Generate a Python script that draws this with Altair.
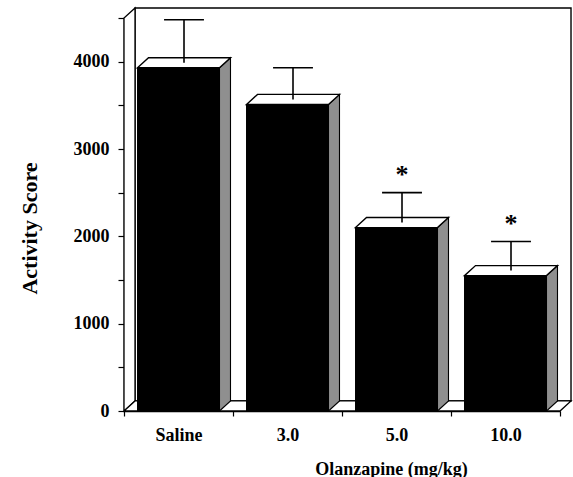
import altair as alt
import pandas as pd

# ---- data ----
groups = ["Saline", "3.0", "5.0", "10.0"]
means = [3930, 3510, 2100, 1550]
sems = [550, 420, 400, 390]
sig = ["", "", "*", "*"]

# ---- style constants (3D look) ----
Y_MAX = 4500
DX = 0.101      # depth in category units
DY = 115        # depth in score units
HALF_W = 0.376  # half width of front face
CAP = 0.183     # half width of error cap
STAR_GAP = 205  # gap between error cap and asterisk, score units
FONT = "Liberation Serif"
W, H = 436, 393

xs = alt.Scale(domain=[-0.5, len(groups) - 0.5], nice=False, zero=False)
ys = alt.Scale(domain=[0, Y_MAX], nice=False, zero=False)

front_rows, side_rows, top_rows, err_rows, cap_rows, star_rows = [], [], [], [], [], []
for i, (g, m, s, st) in enumerate(zip(groups, means, sems, sig)):
    xl, xr = i - HALF_W, i + HALF_W
    front_rows.append(dict(g=g, xl=xl, xr=xr, y0=0, y1=m))
    side_rows += [dict(g=g, x=xr, lo=0, hi=m), dict(g=g, x=xr + DX, lo=DY, hi=m + DY)]
    top_rows += [
        dict(g=g, x=xl, lo=m, hi=m),
        dict(g=g, x=xl + DX, lo=m, hi=m + DY),
        dict(g=g, x=xr, lo=m, hi=m + DY),
        dict(g=g, x=xr + DX, lo=m + DY, hi=m + DY),
    ]
    cx = i + DX / 2
    err_rows.append(dict(g=g, x=cx, y0=m + DY / 2, y1=m + s))
    cap_rows.append(dict(g=g, x0=cx - CAP, x1=cx + CAP, y=m + s))
    star_rows.append(dict(g=g, x=cx, y=m + s + STAR_GAP, t=st))

front = pd.DataFrame(front_rows)
side = pd.DataFrame(side_rows)
top = pd.DataFrame(top_rows)
err = pd.DataFrame(err_rows)
cap = pd.DataFrame(cap_rows)
star = pd.DataFrame(star_rows)

n = len(groups)
back = pd.DataFrame([dict(x0=-0.5 + DX, x1=n - 0.5 + DX, y0=DY, y1=Y_MAX + DY)])
leftwall = pd.DataFrame([dict(x=-0.5, lo=0, hi=Y_MAX), dict(x=-0.5 + DX, lo=DY, hi=Y_MAX + DY)])
floor = pd.DataFrame([
    dict(x=-0.5, lo=0, hi=0),
    dict(x=-0.5 + DX, lo=0, hi=DY),
    dict(x=n - 0.5, lo=0, hi=DY),
    dict(x=n - 0.5 + DX, lo=DY, hi=DY),
])

# label expression: nested conditionals, one per category
label_expr = "''"
for i in reversed(range(n)):
    label_expr = f"datum.value > {i} && datum.value < {i + 1} ? '{groups[i]}' : ({label_expr})"

x_axis = alt.Axis(
    values=[i - 0.5 for i in range(n + 1)], labelExpr=label_expr, labelOffset=-W / n / 2,
    tickSize=5, tickColor="black", domainColor="black", tickWidth=1.2, domainWidth=1.5,
    labelFont=FONT, labelFontWeight="bold", labelFontSize=18, labelColor="black",
    labelPadding=10, labelOverlap=False, labelFlush=False, grid=False,
    title="Olanzapine (mg/kg)", titleFont=FONT, titleFontWeight="bold", titleFontSize=18,
    titleColor="black", titleX=267, titleY=63, titleBaseline="alphabetic", titleAlign="center",
)
y_axis = alt.Axis(
    values=list(range(0, Y_MAX + 1, 500)),
    labelExpr="datum.value % 1000 == 0 ? datum.label : ''",
    format="d",
    tickSize=6, tickColor="black", domainColor="black", tickWidth=1.2, domainWidth=1.5,
    labelFont=FONT, labelFontWeight="bold", labelFontSize=18, labelColor="black",
    labelPadding=9, labelOverlap=False, labelFlush=False, grid=False,
    title="Activity Score", titleFont=FONT, titleFontWeight="bold", titleFontSize=22,
    titleColor="black", titleX=-88, titleY=210, titleBaseline="alphabetic", titleAlign="center",
)

base_layer = alt.Chart(back).mark_rect(fillOpacity=0, stroke="black", strokeWidth=1.4).encode(
    x=alt.X("x0:Q", scale=xs, axis=x_axis),
    x2="x1:Q",
    y=alt.Y("y0:Q", scale=ys, axis=y_axis),
    y2="y1:Q",
)

def area(df, fill, sw=1.3, detail=None):
    enc = dict(
        x=alt.X("x:Q", scale=xs),
        y=alt.Y("lo:Q", scale=ys, stack=None),
        y2="hi:Q",
    )
    if detail:
        enc["detail"] = detail
    return alt.Chart(df).mark_area(fill=fill, stroke="black", strokeWidth=sw, interpolate="linear").encode(**enc)

left_layer = area(leftwall, "white")
floor_layer = area(floor, "white")

front_layer = alt.Chart(front).mark_rect(fill="black", stroke="black", strokeWidth=1).encode(
    x=alt.X("xl:Q", scale=xs), x2="xr:Q",
    y=alt.Y("y0:Q", scale=ys), y2="y1:Q",
)
side_layer = area(side, "#8f8f8f", sw=1.1, detail="g:N")
top_layer = area(top, "white", sw=1.4, detail="g:N")

err_layer = alt.Chart(err).mark_rule(color="black", strokeWidth=1.6).encode(
    x=alt.X("x:Q", scale=xs),
    y=alt.Y("y0:Q", scale=ys), y2="y1:Q",
)
cap_layer = alt.Chart(cap).mark_rule(color="black", strokeWidth=1.6).encode(
    x=alt.X("x0:Q", scale=xs), x2="x1:Q",
    y=alt.Y("y:Q", scale=ys),
)
star_layer = alt.Chart(star).mark_text(font=FONT, fontSize=26, fontWeight="bold", fill="black",
                                       baseline="middle", align="center").encode(
    x=alt.X("x:Q", scale=xs),
    y=alt.Y("y:Q", scale=ys),
    text="t:N",
)

chart = alt.layer(
    base_layer, left_layer, floor_layer, front_layer, side_layer, top_layer,
    err_layer, cap_layer, star_layer,
).properties(
    width=W, height=H,
    autosize=alt.AutoSizeParams(type="none"),
    padding={"left": 124, "top": 18, "right": 13, "bottom": 66},
    background="white",
).configure_view(stroke=None)

chart.save("out.html", embed_options={"renderer": "svg", "actions": False})
